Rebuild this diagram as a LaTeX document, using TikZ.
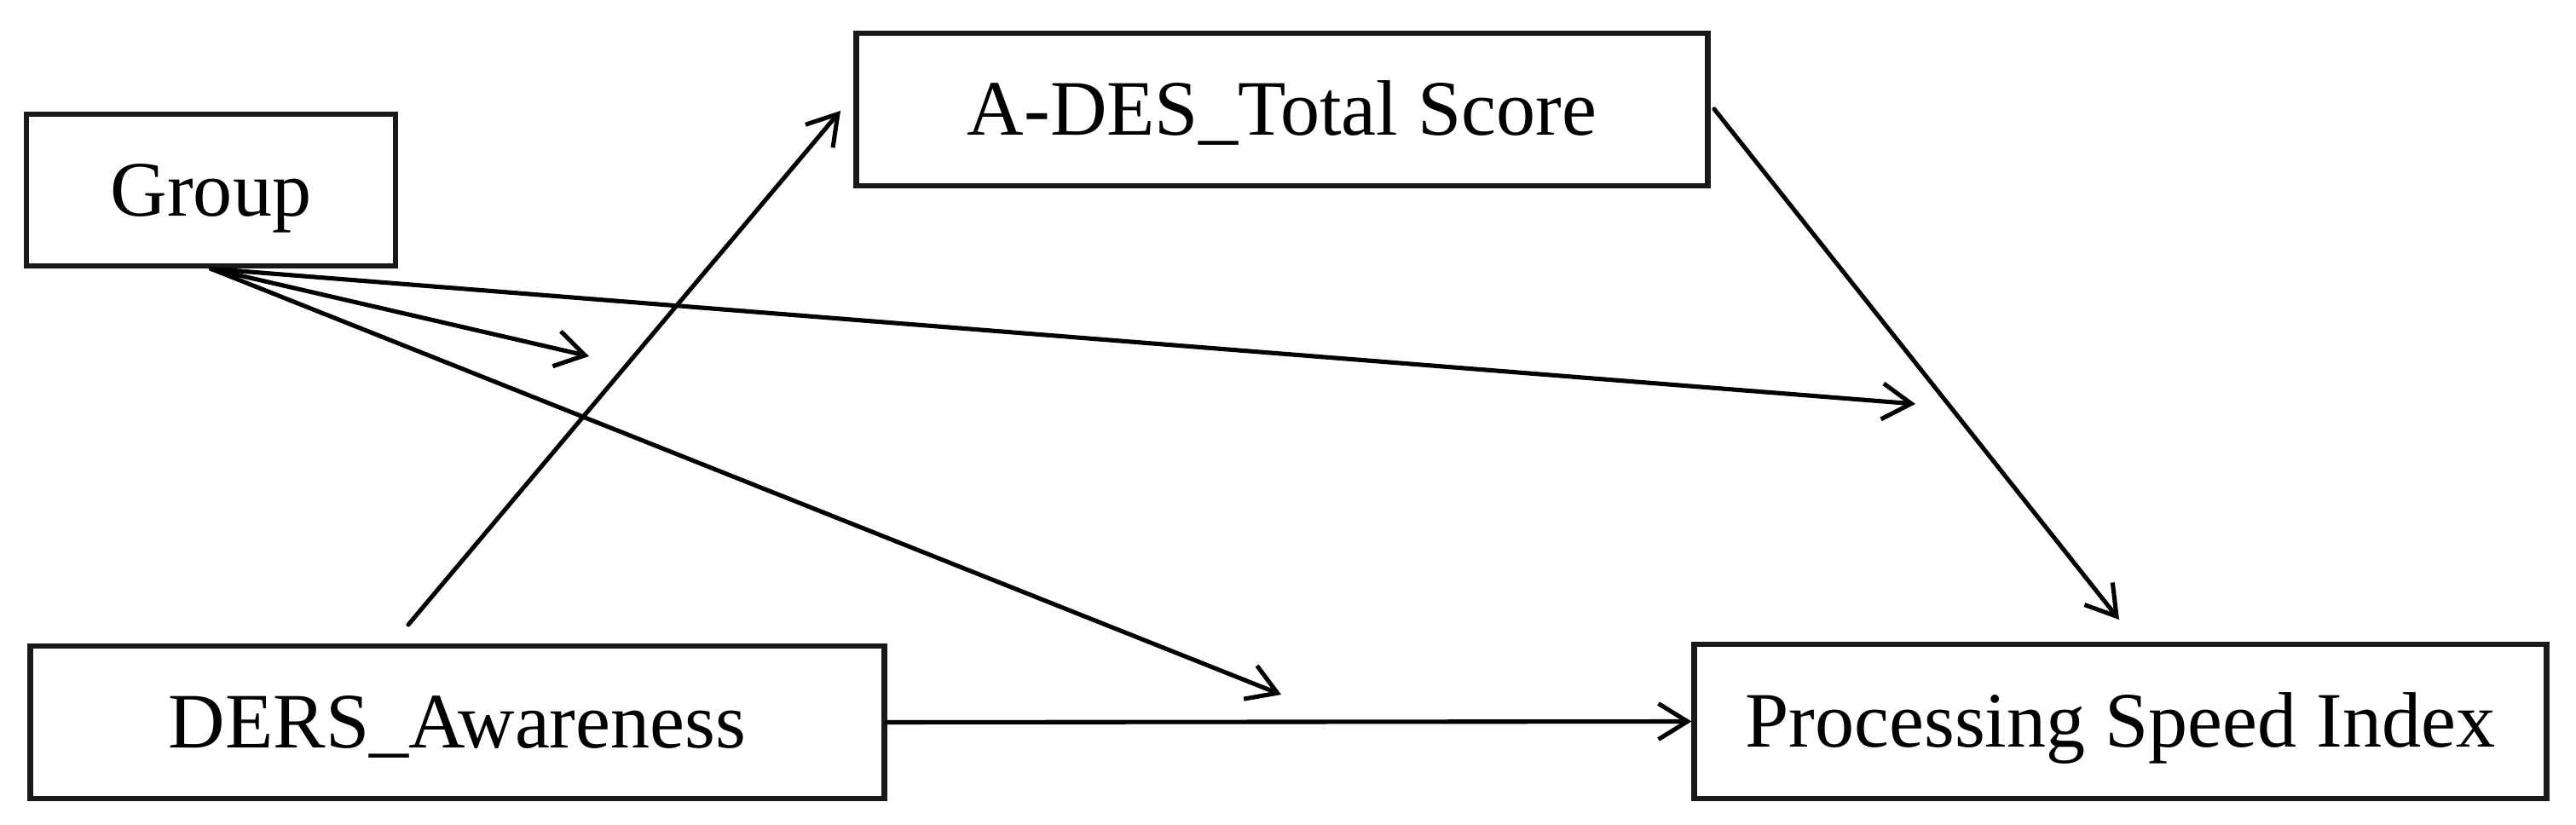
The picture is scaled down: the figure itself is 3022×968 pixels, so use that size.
\documentclass[tikz,border=0pt]{standalone}
\usepackage{fontspec}
\setmainfont{Liberation Serif}
\usetikzlibrary{arrows.meta,calc}
\begin{document}
\begin{tikzpicture}[x=0.01cm,y=-0.01cm,
  varbox/.style={draw=black!90, line width=1.9pt, fill=white, inner sep=0pt,
    font=\fontsize{26.2pt}{30pt}\selectfont, text height=17.3pt, text depth=0pt},
  conn/.style={line width=1.45pt, draw=black, line cap=round,
    -{Straight Barb[length=0.34cm,width=0.42cm,line width=1.45pt]}}]
\useasboundingbox (0,0) rectangle (3022,968);
\fill[white] (0,0) rectangle (3022,968);
% boxes
\node[varbox, minimum width=4.33cm, minimum height=1.78cm] (group) at (247.5,223) {Group};
\node[varbox, minimum width=9.98cm, minimum height=1.79cm] (ades) at (1504,128.5) {A-DES\_Total Score};
\node[varbox, minimum width=10.01cm, minimum height=1.79cm] (ders) at (536.5,847.5) {DERS\_Awareness};
\node[varbox, minimum width=9.99cm, minimum height=1.81cm] (psi) at (2487.5,846.5) {Processing Speed Index};
% free ends
\coordinate (dstart) at (479,733);
\coordinate (aend) at (986,130);
\coordinate (m1) at (691,418);
\coordinate (m2) at (2247,474);
\coordinate (m3) at (1503,815);
\coordinate (astart) at (2011,128);
\coordinate (pend) at (2486,727);
% connectors
\draw[conn] (dstart) -- (aend);
\draw[conn] (group.south) -- (m1);
\draw[conn] (group.south) -- (m2);
\draw[conn] (group.south) -- (m3);
\draw[conn] (ders.east) -- (psi.west);
\draw[conn] (astart) -- (pend);
\end{tikzpicture}
\end{document}
